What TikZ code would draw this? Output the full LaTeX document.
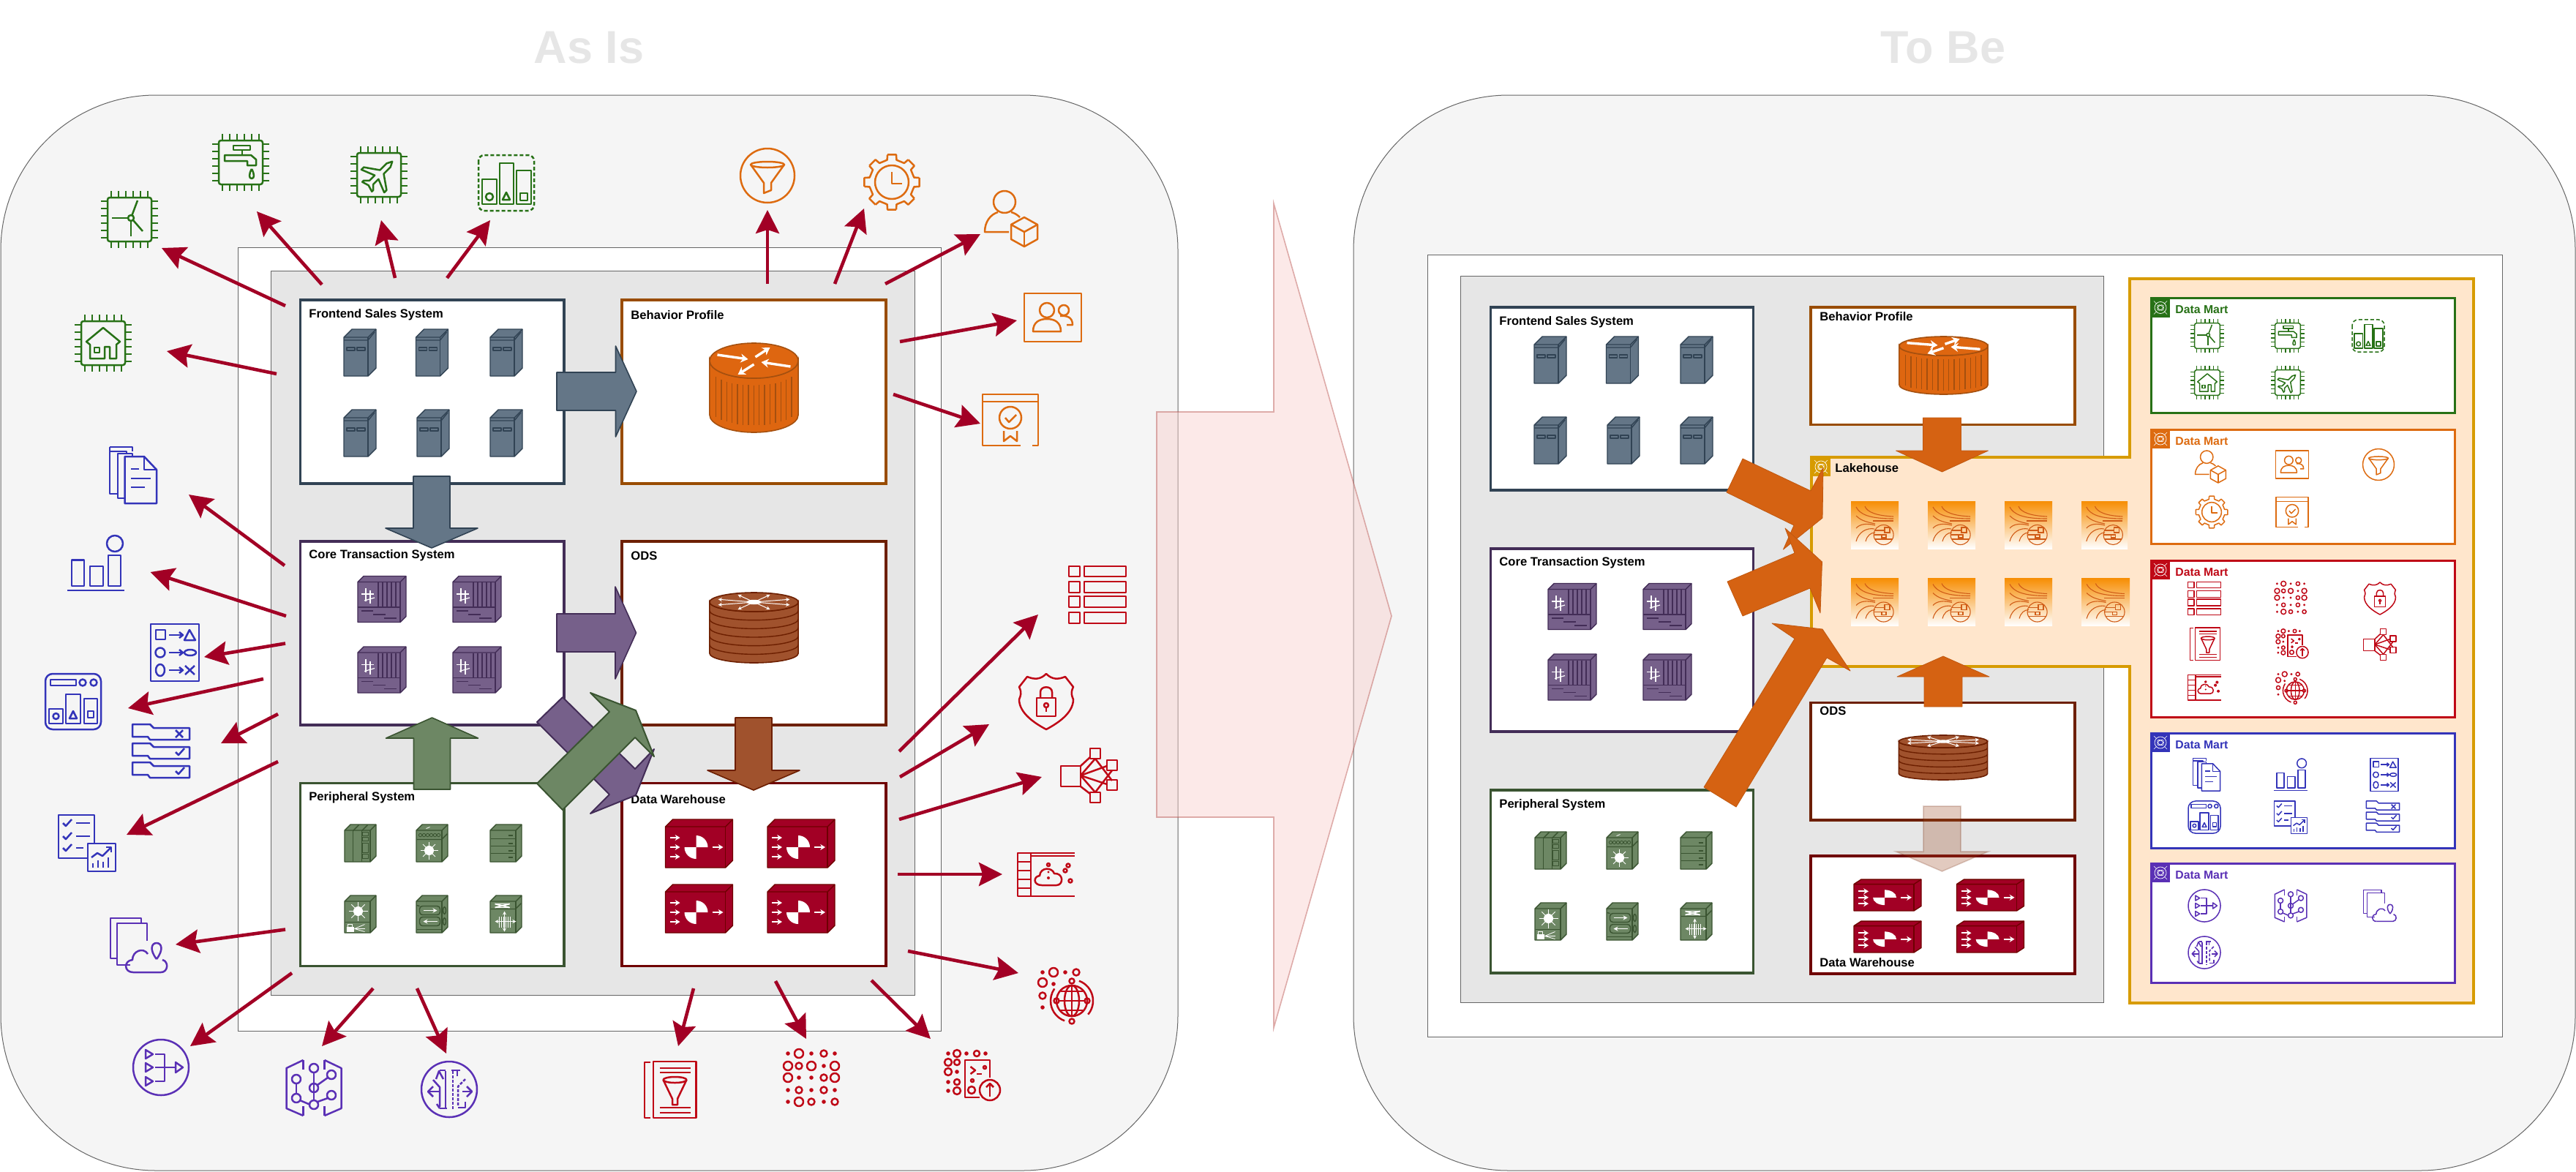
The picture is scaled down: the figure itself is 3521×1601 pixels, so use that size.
\documentclass[tikz,border=0pt]{standalone}
\usepackage{fontspec}
\setmainfont{Liberation Sans}
\usetikzlibrary{arrows.meta,calc}
\definecolor{redA}{HTML}{A20025}
\definecolor{awsG}{HTML}{277116}
\definecolor{awsO}{HTML}{DD6B10}
\definecolor{awsR}{HTML}{BF0816}
\definecolor{awsB}{HTML}{3334B9}
\definecolor{awsP}{HTML}{5A30B5}
\definecolor{slF}{HTML}{647687}\definecolor{slS}{HTML}{314354}
\definecolor{puF}{HTML}{76608A}\definecolor{puS}{HTML}{432D57}
\definecolor{grF}{HTML}{6D8764}\definecolor{grS}{HTML}{3A5431}
\definecolor{brF}{HTML}{A0522D}\definecolor{brS}{HTML}{6D1F00}
\definecolor{dwF}{HTML}{A20025}\definecolor{dwS}{HTML}{6F0000}
\definecolor{bhS}{HTML}{994C00}
\definecolor{orF}{HTML}{DE6610}\definecolor{orS}{HTML}{A5500F}
\definecolor{lkF}{HTML}{FFE6CC}\definecolor{lkS}{HTML}{D79B00}
\definecolor{bigO}{HTML}{D56212}
\definecolor{lkL}{HTML}{D05C17}
\definecolor{lkT}{HTML}{F78E04}
\definecolor{titleC}{HTML}{E6E6E6}
\definecolor{pinkF}{HTML}{F8CECC}\definecolor{pinkS}{HTML}{B85450}
\tikzset{
  panel/.style={draw=black!60,line width=.5pt,fill=black!4,rounded corners=106pt},
  inner rect/.style={draw=black!60,line width=.5pt,fill=white},
  gray rect/.style={draw=black!60,line width=.5pt,fill=titleC},
  sysbox/.style={shape=rectangle,fill=white,line width=1.7pt,inner sep=0pt},
  dmbox/.style={shape=rectangle,fill=white,line width=1.5pt,inner sep=0pt},
  dmhead/.style={shape=rectangle,inner sep=0pt,minimum size=13pt},
  lbl/.style={anchor=west,inner sep=0pt,yshift=-.8pt,font=\bfseries\fontsize{8.3}{10}\selectfont},
  dmlbl/.style={anchor=west,inner sep=0pt,font=\bfseries\fontsize{7.9}{10}\selectfont},
  ttl/.style={inner sep=0pt,text=titleC,font=\bfseries\fontsize{31.5}{36}\selectfont},
  redarrow/.style={draw=redA,line width=2.3pt,-{Stealth[length=16pt,width=16pt,inset=2.5pt]}},
  orblock/.style={fill=bigO,draw=bigO!90!black,line width=.4pt,line join=round},
  devline/.style={line width=.7pt,line join=round},
}
% ---- helpers
\newcommand{\rectnode}[7]{\node[#7,draw=#6,minimum width={(#4-#2)*0.5pt},minimum height={(#5-#3)*0.5pt}] (#1) at ({(#2+#4)/2},{(#3+#5)/2}) {};}
\newcommand{\tarrow}[5]{\coordinate (#1-a) at (#2,#3);\coordinate (#1-b) at (#4,#5);\draw[redarrow] (#1-a) -- (#1-b);}
\newcommand{\vblock}[7]{\draw[#1] (#2-#6,#3)--(#2+#6,#3)--(#2+#6,#4)--(#2+#7,#4)--(#2,#5)--(#2-#7,#4)--(#2-#6,#4)--cycle;}
\newcommand{\hblock}[7]{\draw[#1] (#3,#2-#6)--(#3,#2+#6)--(#4,#2+#6)--(#4,#2+#7)--(#5,#2)--(#4,#2-#7)--(#4,#2-#6)--cycle;}
\newcommand{\icoB}[4]{\begin{scope}[shift={(#3,#4)},color=#2,line width=1.25pt,line join=round]\csname icoX#1\endcsname\end{scope}}
\newcommand{\icoS}[4]{\begin{scope}[shift={(#3,#4)},scale=.58,color=#2,line width=.75pt,line join=round]\csname icoX#1\endcsname\end{scope}}
\newcommand{\chipframe}{\draw[rounded corners=1.5pt] (-30,-30) rectangle (30,30);
 \foreach \pp in {-25,-15,-5,5,15,25}{\draw (\pp,-30)--(\pp,-39);\draw (\pp,30)--(\pp,39);\draw (-30,\pp)--(-39,\pp);\draw (30,\pp)--(39,\pp);}}
% ---- outline icons
\newcommand{\icoXwind}{\chipframe\draw (2,-2) circle (4);\draw (-2,-2)--(-24,-2);\draw (2,2)--(2,23);\draw (3.5,-6)--(11,-26);\draw (5,1)--(18,16);}
\newcommand{\icoXtap}{\chipframe\draw (-10,-23) rectangle (13,-17);\draw (2,-17)--(2,-10);
 \draw (-22,-10)--(14,-10)--(21,-4)--(21,4)--(9,4)--(9,-2)--(-22,-2)--cycle;
 \draw (15,9) .. controls (11,16) and (11,22) .. (15,22) .. controls (19,22) and (19,16) .. (15,9);}
\newcommand{\icoXplane}{\chipframe\begin{scope}[rotate=-45,scale=.92]\draw (0,-28)--(4,-20)--(4,-6)--(24,8)--(24,13)--(4,5)--(4,16)--(10,22)--(10,25)--(0,22)--(-10,25)--(-10,22)--(-4,16)--(-4,5)--(-24,13)--(-24,8)--(-4,-6)--(-4,-20)--cycle;\end{scope}}
\newcommand{\icoXchart}{\draw[dash pattern=on 2.5pt off 1.5pt,rounded corners=4pt] (-38,-38) rectangle (38,38);
 \draw (-33,-5) rectangle (-13,29);\draw (-9,-27) rectangle (10,29);\draw (14,-17) rectangle (34,29);
 \draw (-23,19) circle (5);\draw (0,13)--(5,23)--(-5,23)--cycle;\draw (19,14) rectangle (29,24);}
\newcommand{\icoXhome}{\chipframe\draw (0,-21)--(23,-2)--(18,2)--(18,21)--(9,21)--(9,5)--(2,5)--(2,21)--(-18,21)--(-18,2)--(-23,-2)--cycle;\draw (-12,6) rectangle (-5,13);}
\newcommand{\icoXdocs}{\draw (-11.5,-26)--(15,-26)--(32,-8)--(32,38)--(-11.5,38)--cycle;\draw (15,-26)--(15,-8)--(32,-8);
 \draw (-3,-9)--(8,-9);\draw (-3,4)--(24,4);\draw (-3,16)--(16,16);
 \draw (-1,-26)--(-1,-30)--(-21,-30)--(-21,31)--(-11.5,31);\draw (-9,-30)--(-9,-33)--(-32,-33)--(-32,25)--(-21,25);\draw (-32,-39)--(-1,-39)--(-1,-33);\draw (-32,-39)--(-32,-33);}
\newcommand{\icoXbars}{\draw (26,-27) circle (11);\draw (-33,-4.5) rectangle (-16,31);\draw (-8,4) rectangle (10,31);\draw (17,-11) rectangle (34,31);\draw (-39,37)--(39,37);}
\newcommand{\icoXflows}{\draw (-33,-39) rectangle (33,39);
 \draw (-26,-31) rectangle (-13,-18);\draw (-8,-24)--(10,-24);\draw (6,-28)--(11,-24)--(6,-20);\draw (20,-31)--(28,-17)--(13,-17)--cycle;
 \draw (-20,0) circle (6.5);\draw (-8,0)--(10,0);\draw (6,-4)--(11,0)--(6,4);\draw (21,0) ellipse (8 and 4);
 \draw (-20,24) ellipse (6 and 8);\draw (-8,24)--(10,24);\draw (6,20)--(11,24)--(6,28);\draw (14,18)--(27,30);\draw (14,30)--(27,18);}
\newcommand{\icoXdash}{\draw[rounded corners=5pt] (-38,-38) rectangle (38,38);\draw (-31,-30) rectangle (4,-22);\draw (13,-26) circle (4.5);\draw (28,-26) circle (4.5);
 \draw (-33,10) rectangle (-14,30);\draw (-10,-10) rectangle (10,30);\draw (15,-4) rectangle (33,30);\draw (-23.5,20) circle (4);\draw (0,13)--(5,23)--(-5,23)--cycle;\draw (20,13) rectangle (28,22);}
\newcommand{\icoXcheck}{\draw (10,1)--(10,-38)--(-39,-38)--(-39,21)--(1,21);\draw (1,1) rectangle (39,39);
 \foreach \yy in {-27,-9,7}{\draw (-33,\yy)--(-29,\yy+4)--(-21,\yy-5);}\draw (-15,-27)--(4,-27);\draw (-15,-9)--(4,-9);\draw (-15,7)--(-5,7);
 \foreach \xx/\tt in {8/28,15/24,22/26,29/20}{\draw (\xx,34)--(\xx,\tt);}\draw (6,20)--(14,14)--(21,18)--(33,6);\draw (26,6)--(33,6)--(33,13);}
\newcommand{\icoXfolders}{\foreach \dy in {0,26,52}{\draw (-39,-38+\dy)--(-15,-38+\dy)--(-10,-33+\dy)--(39,-33+\dy)--(39,-17+\dy)--(-15,-17+\dy)--(-18,-21+\dy)--(-39,-21+\dy)--cycle;}
 \draw (20,-30)--(30,-20);\draw (20,-20)--(30,-30);\draw (20,0)--(24,4)--(32,-5);\draw (20,26)--(24,30)--(32,21);}
\newcommand{\icoXpin}{\draw (3,-30)--(3,-37)--(-39,-37)--(-39,18)--(-30,18);\draw (11,-6)--(11,-30)--(-30,-30)--(-30,27)--(-12,27);
 \draw (-8,37) .. controls (-21,37) and (-21,21) .. (-9,20) .. controls (-9,8) and (6,2) .. (12,12);\draw (-8,37)--(30,37) .. controls (40,37) and (41,22) .. (32,20);
 \draw (24,19) .. controls (14,6) and (17,-3) .. (24,-3) .. controls (31,-3) and (34,6) .. (24,19);}
\newcommand{\icoXmerge}{\draw (0,0) circle (38);\foreach \yy in {-18,0,19}{\draw (-21,\yy-6)--(-11,\yy)--(-21,\yy+6)--cycle;}
 \draw (-8,-18)--(5,-18)--(5,19)--(-8,19);\draw (-8,0)--(20,0);\draw (20,-7)--(30,0)--(20,7)--cycle;}
\newcommand{\icoXbrain}{\draw (-14.5,-38)--(-37.5,-27)--(-37.5,28)--(-14.5,38);\draw (-14.5,-38)--(-14.5,-25);\draw (-14.5,38)--(-14.5,25);
 \draw (14.5,-38)--(37.5,-27)--(37.5,28)--(14.5,38);\draw (14.5,-38)--(14.5,-25);\draw (14.5,38)--(14.5,25);
 \draw (0,-21)--(0,17);\draw (-24,-6)--(-24,8);\draw (-19,17)--(-5,23);\draw (5,-4)--(19,-14);\draw (5,19)--(19,14);
 \foreach \xx/\yy in {0/-27,0/0,0/23,-24/-12,-24/14,24/-18,24/10}{\draw (\xx,\yy) circle (6);}}
\newcommand{\icoXroutes}{\draw (0,0) circle (38);\draw (-5,-25)--(-5,27);\draw (-13,-26)--(-5,-26);\draw (-22,-13)--(-13,-3)--(-13,24);\draw (-13,26)--(-3,26);\draw (-17,20)--(-13,26);
 \draw (-18,-14)--(-14,-25)--(-8,-14);\draw (-28,3)--(-12,3);\draw (-22,-4)--(-29,3)--(-22,10);
 \draw[dash pattern=on 2pt off 1pt] (5,-25)--(5,27);\draw (3,-26)--(15,-26);\draw (11,-26)--(11,-18);\draw[dash pattern=on 2pt off 1pt] (22,-14)--(12,-4)--(12,22);\draw (18,3)--(30,3);\draw (24,-4)--(31,3)--(24,10);\draw (12,25)--(22,25)--(22,17);}
\newcommand{\icoXfunbook}{\draw (-23,-39) rectangle (35.5,38);\draw (-27,-38)--(-35,-38)--(-35,38)--(-27,38);
 \draw (-14,-30)--(28,-30);\draw (-14,-24)--(28,-24);\draw (-14,24)--(28,24);\draw (-14,31)--(28,31);
 \draw (6.5,-14) ellipse (16 and 4);\draw (-9.5,-14)--(3,12)--(3,20)--(10,20)--(10,12)--(22.5,-14);}
\newcommand{\dotgrid}[2]{\foreach \xx/\yy in {#1}{\fill (\xx,\yy) circle (2.8);}\foreach \xx/\yy/\rr in {#2}{\draw (\xx,\yy) circle (\rr);}}
\newcommand{\icoXdots}{\dotgrid{-32/-33,0/-33,32/-33,17/-16,-17/0,0/0,-32/17,0/17,32/17,-32/33,17/33}{-17/-33/6,17/-33/4.5,-32/-16/6,-17/-16/4.5,0/-16/6,32/-16/6,-32/0/6,17/0/4.5,32/0/6,-17/17/4.5,17/17/4.5,-17/33/6,0/33/4.5,32/33/4.5}}
\newcommand{\icoXterm}{\dotgrid{-33/-30,-8/-30,18/-30,-21/-5,-33/9,-33/21}{-21/-30/5,6/-30/4,-33/-18/5,-21/-18/4,-33/-5/5,-21/9/4,-21/21/5}
 \draw (24,3)--(24,-21)--(-10,-21)--(-10,30)--(10,30);\draw (-2.5,-12)--(4,-7)--(-2.5,-2);\draw (6,-2)--(13,-2);\draw (17,-11) circle (2);\draw (0,7) circle (2);\draw (-1,20) circle (5);
 \draw (24,20) circle (14);\draw (24,29)--(24,12);\draw (19,16)--(24,11)--(29,16);}
\newcommand{\icoXglobe}{\dotgrid{-31/-32,0/-32,-16/-16,-31/16}{-16/-32/6,15/-32/4.5,-31/-18/6,-31/0/4.5,9/-20/3.5,9/35/3.5,-12/7/3.5,30/7/3.5}
 \draw (9,7) circle (21);\draw (9,7) ellipse (10 and 21);\draw (-9,7)--(27,7);\draw (9,-14)--(9,28);\draw (-6,-6)--(24,-6);\draw (-6,20)--(24,20);
 \draw ([shift={(9,7)}]-70:29) arc (-70:40:29);\draw ([shift={(9,7)}]110:29) arc (110:215:29);}
\newcommand{\icoXtable}{\foreach \ya/\yb in {-39/-25,-18/-3,2/17,24/39}{\draw (-39,\ya) rectangle (-24,\yb);\draw (-18,\ya) rectangle (39,\yb);}}
\newcommand{\icoXshield}{\draw (0,-38) .. controls (-8,-30) and (-16,-30) .. (-26,-34) -- (-37,-20) .. controls (-33,-12) and (-35,-8) .. (-37,-3) .. controls (-37,16) and (-15,30) .. (0,38) .. controls (15,30) and (37,16) .. (37,-3) .. controls (35,-8) and (33,-12) .. (37,-20) -- (26,-34) .. controls (16,-30) and (8,-30) .. (0,-38) -- cycle;
 \draw (-13,-5) rectangle (13,20);\draw (-8,-5)--(-8,-13) .. controls (-8,-22) and (8,-22) .. (8,-13)--(8,-5);\draw (0,5) circle (3);\draw (0,8)--(0,14);}
\newcommand{\icoXnet}{\draw (-39,-13) rectangle (-12,15);\foreach \xx/\yy in {8/-30,31/-14,31/13,8/30}{\draw (\xx-7,\yy-7) rectangle (\xx+7,\yy+7);}
 \draw (-12,-13)--(1,-25);\draw (-12,0)--(8,-23);\draw (-12,0)--(24,-13);\draw (-12,0)--(24,12);\draw (-12,0)--(8,23);\draw (-12,15)--(1,25);\draw (8,-23)--(31,7);\draw (8,23)--(31,-7);}
\newcommand{\icoXctable}{\draw (-39,-29) rectangle (-21,30);\foreach \yy in {-17,-5,7,19}{\draw (-39,\yy)--(-21,\yy);}\draw (-21,-29)--(39,-29);\draw (-21,-25)--(39,-25);\draw (-21,30)--(39,30);
 \draw (-6,15) .. controls (-18,15) and (-18,3) .. (-9,2) .. controls (-8,-10) and (8,-10) .. (11,-1) .. controls (24,-2) and (24,15) .. (14,15) -- cycle;
 \fill (3,-3) circle (1.6);\fill (3,5) circle (2);\draw (30,-12) circle (2.5);\draw (26,-5) circle (2.5);\draw (33,9) circle (2.5);\draw (3,-13) circle (2);}
\newcommand{\icoXfunnel}{\draw (0,0) circle (37);\draw (0,-15) ellipse (23 and 4);\draw (-23,-15)--(-5,10)--(-5,24)--(5,20)--(5,10)--(23,-15);}
\newcommand{\icoXgear}{\foreach \aa in {0,45,...,315}{\draw (\aa-9:38)--(\aa+9:38)--(\aa+12:31)--(\aa+33:31)--(\aa+36:38);}\draw (0,0) circle (23);\draw (0,-14)--(0,2)--(14,2);}
\newcommand{\icoXuser}{\draw (-10,-23) circle (15);\draw (-4,18)--(-37,18) .. controls (-37,4) and (-29,-6) .. (-19,-9);\draw (-1,-9) .. controls (3,-8) and (7,-6) .. (11,-2);
 \draw (17,-2)--(35,8)--(35,28)--(17,38)--(-1,28)--(-1,8)--cycle;\draw (-1,8)--(17,18)--(35,8);\draw (17,18)--(17,38);}
\newcommand{\icoXpeople}{\draw (-39,-33) rectangle (39,33);\draw (-8,-10) circle (10);\draw (-27,19) .. controls (-27,6) and (-18,2) .. (-8,2) .. controls (2,2) and (11,6) .. (11,19)--cycle;\draw (15,-10) circle (7);\draw (10,-2) .. controls (20,-3) and (27,0) .. (27,10)--(19,10);}
\newcommand{\icoXcert}{\draw (14,35)--(-38,35)--(-38,-35)--(38,-35)--(38,35)--(30,35);\draw (-38,-25)--(38,-25);\draw (0,-3) circle (15);\draw (-7,-3)--(-2,3)--(8,-7);\draw (-9,15)--(-9,29)--(0,22)--(9,29)--(9,15);}
% ---- 3D devices: centred on the origin
\newcommand{\devcube}[5]{% width height depth fill stroke
 \filldraw[devline,fill=#4,draw=#5] ({-#1/2},{-#2/2+#3})--({-#1/2+#3},{-#2/2})--({#1/2},{-#2/2})--({#1/2},{#2/2-#3})--({#1/2-#3},{#2/2})--({-#1/2},{#2/2})--cycle;
 \draw[devline,draw=#5] ({-#1/2},{-#2/2+#3})--({#1/2-#3},{-#2/2+#3})--({#1/2},{-#2/2});\draw[devline,draw=#5] ({#1/2-#3},{-#2/2+#3})--({#1/2-#3},{#2/2});}
\newcommand{\server}[2]{\begin{scope}[shift={(#1,#2)}]\devcube{44}{64}{11}{slF}{slS}
 \draw[devline,draw=slS] (-22,-17)--(11,-17)--(20,-28);\draw[devline,draw=slS,fill=slF] (-18,-7) rectangle (-7,-3);\draw[devline,draw=slS] (-4,-7) rectangle (7,-3);\end{scope}}
\newcommand{\coreswitch}[2]{\begin{scope}[shift={(#1,#2)}]\devcube{66}{63}{8}{puF}{puS}
 \foreach \xx in {-5,1,7,13,19}{\draw[devline,draw=puS] (\xx,-23)--(\xx,11);}\draw[devline,draw=puS] (-33,11)--(25,11);
 \draw[devline,draw=puS] (-28,16)--(-12,16);\draw[devline,draw=puS] (-12,21)--(5,21);\draw[devline,draw=puS] (3,26)--(20,26);
 \draw[white,line width=.6pt] (-28,-7)--(-11,-7);\draw[white,line width=.6pt] (-24,2)--(-10,-2);\draw[white,line width=.6pt] (-22,-15)--(-22,3);\draw[white,line width=.6pt] (-16,-12)--(-16,6);\end{scope}}
\newcommand{\perA}{\devcube{43}{51}{8}{grF}{grS}\draw[devline,draw=grS] (-10,-17)--(-10,25);\draw[devline,draw=grS] (2,-17)--(2,25);\draw[devline,draw=grS] (-10,-17)--(-2,-25);\draw[devline,draw=grS] (2,-17)--(10,-25);
 \foreach \ya/\yb in {-15/-10,-8/-3,0/13,15/21}{\draw[devline,draw=grS] (3,\ya) rectangle (11,\yb);}}
\newcommand{\perB}{\devcube{43}{51}{8}{grF}{grS}\draw[devline,draw=grS] (-21,-5)--(13,-5)--(21,-13);\foreach \xx in {-16,-11,...,9}{\draw[line width=.4pt,draw=grS] (\xx,-11) circle (2.2);}
 \fill[white] (-4,10) circle (6.5);\foreach \aa in {0,45,...,315}{\draw[white,line width=.4pt] (-4,10)--++(\aa:12);}\draw[white,line width=.4pt] (-8,-20)--(-3,-22);}
\newcommand{\perC}{\devcube{43}{51}{8}{grF}{grS}\foreach \yy in {-6,4,14}{\draw[devline,draw=grS] (-21,\yy)--(13,\yy);}\foreach \yy in {-11,0,10,19}{\draw[line width=1pt,draw=grS] (3,\yy)--(9,\yy);}}
\newcommand{\perD}{\devcube{43}{51}{8}{grF}{grS}\draw[devline,draw=grS] (-21,11)--(13,11);\fill[white] (-3,-4) circle (6.5);\foreach \aa in {0,45,...,315}{\draw[white,line width=.4pt] (-3,-4)--++(\aa:13);}
 \fill[white] (-19,17) rectangle (-9,24);\draw[white,line width=.5pt] (-17,17)--(-17,14)--(-11,14)--(-11,17);\draw[white,line width=.4pt] (-8,20)--(6,14);\draw[white,line width=.4pt] (-8,20)--(6,24);\draw[white,line width=.4pt] (-8,20)--(6,20);}
\newcommand{\perE}{\devcube{43}{51}{8}{grF}{grS}\draw[devline,draw=grS,rounded corners=2pt] (-17,-11) rectangle (11,1);\draw[devline,draw=grS,rounded corners=2pt] (-17,4) rectangle (11,16);\draw[white,line width=.5pt,-{Stealth[length=3pt,width=3pt]}] (-12,-5)--(7,-5);\draw[white,line width=.5pt,-{Stealth[length=3pt,width=3pt]}] (7,10)--(-12,10);\draw[devline,draw=grS] (17,-5) ellipse (2 and 5);\draw[devline,draw=grS] (17,10) ellipse (2 and 5);\draw[devline,draw=grS] (-21,-12)--(-17,-11);\draw[devline,draw=grS] (-21,21)--(13,21);}
\newcommand{\perF}{\devcube{43}{51}{8}{grF}{grS}\draw[devline,draw=grS] (-21,-7)--(13,-7)--(21,-15);\draw[white,line width=.9pt] (-15,-14)--(5,-9);\draw[white,line width=.9pt] (-15,-9)--(5,-14);\draw[white,line width=.9pt] (-15,-14)--(5,-14);\draw[white,line width=.9pt] (-15,-9)--(5,-9);
 \draw[white,line width=.4pt] (-9,3) grid[step=3] (6,18);\draw[white,line width=.4pt,{Stealth[length=2.5pt,width=2.5pt]}-{Stealth[length=2.5pt,width=2.5pt]}] (-15,10)--(14,10);\draw[white,line width=.4pt,{Stealth[length=2.5pt,width=2.5pt]}-{Stealth[length=2.5pt,width=2.5pt]}] (-2,-4)--(-2,24);}
\newcommand{\dwicon}[3]{\begin{scope}[shift={(#1,#2)},yscale=#3]\devcube{92}{66}{10}{dwF}{dwS}
 \foreach \yy in {-8,5,18}{\draw[white,line width=.9pt,-{Stealth[length=3.4pt,width=4pt]}] (-40,\yy)--(-26,\yy);}
 \draw[white,line width=.9pt,-{Stealth[length=3.4pt,width=4pt]}] (18,5)--(33,5);
 \fill[white] (-4,5)--(12,5) arc (0:-90:16)--cycle;\fill[white] (-4,5)--(-20,5) arc (180:90:16)--cycle;\end{scope}}
% barrel router (behaviour profile)
\newcommand{\barrel}[4]{\begin{scope}[shift={(#1,#2)}]
 \filldraw[fill=orF,draw=orS,line width=.8pt] (-60.6,0)--(-60.6,#4) arc (180:0:60.6 and #3)--(60.6,0) arc (0:180:60.6 and #3)--cycle;
 \foreach \xx in {-52,-44.6,...,53}{\pgfmathsetmacro\yy{#3*sqrt(1-(\xx/60.6)^2)}\draw[draw=orS,line width=.7pt] (\xx,{\yy+.4*#3})--(\xx,{\yy+#4-.4*#3});}
 \draw[draw=orS,fill=orF,line width=.8pt] (0,0) ellipse (60.6 and #3);
 \begin{scope}[yscale=#3/24]
 \draw[white,line width=1.7pt,-{Stealth[length=5pt,width=6pt]}] (-50,-8)--(-8,-2);\draw[white,line width=1.7pt,-{Stealth[length=5pt,width=6pt]}] (50,8)--(10,2);
 \draw[white,line width=1.7pt,-{Stealth[length=5pt,width=6pt]}] (2,-5)--(22,-18);\draw[white,line width=1.7pt,-{Stealth[length=5pt,width=6pt]}] (0,5)--(-22,19);
 \end{scope}\end{scope}}
% disc stack router (ODS)
\newcommand{\stackrouter}[5]{\begin{scope}[shift={(#1,#2)}]
 \filldraw[fill=brF,draw=brS,line width=.8pt] (-60.6,0)--(-60.6,#4) arc (180:0:60.6 and #3)--(60.6,0) arc (0:180:60.6 and #3)--cycle;
 \foreach \ii in {1,...,#5}{\draw[draw=brS,line width=.7pt] (-60.6,{#4*\ii/(#5+1)}) arc (180:0:60.6 and #3);}
 \draw[draw=brS,fill=brF,line width=.8pt] (0,0) ellipse (60.6 and #3);
 \foreach \aa in {20,65,115,160,200,245,295,340}{\draw[white,line width=.5pt,-{Stealth[length=2.6pt,width=2.6pt]}] (0,0)--({52*cos(\aa)},{.85*#3*sin(\aa)});}
 \fill[white] (0,0) ellipse (10 and {#3*.25});\end{scope}}
% lakehouse icon: x,y = top-left, 65 px square
\newcommand{\lakeicon}[3]{\begin{scope}[shift={(#1,#2)},xscale=#3/65]
 \shade[top color=lkT,bottom color=white] (0,0) rectangle (65,65);
 \begin{scope}[draw=lkL,line width=.55pt]
 \draw (7,8) .. controls (12,18) and (25,24) .. (58,24);\draw (19,7) .. controls (22,15) and (35,20) .. (58,21);\draw (30,27)--(58,27);
 \draw (7,20) .. controls (15,28) and (25,29) .. (33,31);\draw (7,37) .. controls (12,31) and (22,30) .. (33,33);
 \draw (7,55) .. controls (10,42) and (22,36) .. (32,38);\draw (20,55) .. controls (22,47) and (27,43) .. (33,43);
 \draw (44.6,46) circle (13.5);\draw (32,40)--(46,40);\draw (31.5,46)--(46,46);\draw (33,52)--(57,52);\draw (46,36) rectangle (53,43);\draw (42,46) rectangle (48,50);
 \end{scope}\end{scope}}
% small header mark
\newcommand{\hdmark}[3]{\begin{scope}[shift={(#1,#2)}]\draw[white,line width=.35pt] (0,0) circle (8);\draw[white,line width=.35pt,rotate=35] (0,0) ellipse (5 and 3);\draw[white,line width=.35pt,rotate=-35] (0,0) ellipse (5 and 3);\draw[white,line width=.3pt] (-9,-9)--(-5,-5);\draw[white,line width=.3pt] (9,-9)--(5,-5);\draw[white,line width=.3pt] (-9,9)--(-5,5);\draw[white,line width=.3pt] (9,9)--(5,5);\end{scope}}
\newcommand{\datamart}[4]{\rectnode{#1}{2940}{#2}{3355}{#3}{#4}{dmbox}
 \node[dmhead,fill=#4] (#1-h) at (2953,{#2+13}) {};\hdmark{2953}{#2+13}{#4}
 \node[dmlbl,text=#4] (#1-l) at (2973,{#2+16}) {Data Mart};}
% groups drawn for either panel
\newcommand{\frontendset}{\server{492}{482}\server{590.5}{482}\server{692}{482}\server{492}{592}\server{592}{592}\server{692}{592}}
\newcommand{\coreset}{\coreswitch{522}{819}\coreswitch{652}{819}\coreswitch{522}{915.5}\coreswitch{652}{915.5}}
\newcommand{\peripheralset}{
 \begin{scope}[shift={(492.5,1152.5)}]\perA\end{scope}\begin{scope}[shift={(590.5,1152.5)}]\perB\end{scope}\begin{scope}[shift={(691.5,1152.5)}]\perC\end{scope}
 \begin{scope}[shift={(492.5,1249.5)}]\perD\end{scope}\begin{scope}[shift={(590.5,1249.5)}]\perE\end{scope}\begin{scope}[shift={(691.5,1249.5)}]\perF\end{scope}}
\begin{document}
\begin{tikzpicture}[x=0.5pt,y=-0.5pt]
\useasboundingbox (0,0) rectangle (3521,1601);
% ---------- titles and panels
\node[ttl] (tAsIs) at (805,65) {As Is};
\node[ttl] (tToBe) at (2656,65) {To Be};
\draw[panel] (1,130) rectangle (1610,1600);
\draw[panel] (1850,130) rectangle (3520,1600);
\draw[inner rect] (325.5,338) rectangle (1286,1409);
\draw[gray rect] (370,370) rectangle (1250.5,1360);
% ---------- big pink transition arrow
\draw[fill=pinkF,fill opacity=.45,draw=pinkS,draw opacity=.45,line width=.8pt] (1581,563)--(1741,563)--(1741,278)--(1902,842)--(1741,1405)--(1741,1117)--(1581,1117)--cycle;
% ---------- As Is boxes
\rectnode{fe}{410.5}{410}{771}{661}{slS}{sysbox}
\rectnode{bp}{850}{410}{1211}{661}{bhS}{sysbox}
\rectnode{ct}{410.5}{740}{771}{991}{puS}{sysbox}
\rectnode{od}{850}{740}{1211}{991}{brS}{sysbox}
\rectnode{pe}{410.5}{1070.5}{771}{1320.5}{grS}{sysbox}
\rectnode{dw}{850}{1070.5}{1211}{1320.5}{dwS}{sysbox}
\node[lbl] (feL) at (422,429) {Frontend Sales System};
\node[lbl] (bpL) at (862,429) {Behavior Profile};
\node[lbl] (ctL) at (422,758) {Core Transaction System};
\node[lbl] (odL) at (862,758) {ODS};
\node[lbl] (peL) at (422,1089) {Peripheral System};
\node[lbl] (dwL) at (862,1090.5) {Data Warehouse};
\frontendset \coreset \peripheralset
\dwicon{955.5}{1153}{1}\dwicon{1095}{1153}{1}\dwicon{955.5}{1242}{1}\dwicon{1095}{1242}{1}
\barrel{1030.5}{493}{24}{74}
\stackrouter{1030.5}{823}{13}{70}{5}
% ---------- As Is block arrows
\hblock{fill=slF,draw=slS,line width=.8pt,line join=round}{535}{761}{841.5}{870}{26}{62}
\vblock{fill=slF,draw=slS,line width=.8pt,line join=round}{590}{651}{722}{749}{25}{63}
\hblock{fill=puF,draw=puS,line width=.8pt,line join=round}{865}{761}{841}{869.5}{26}{63}
\vblock{fill=grF,draw=grS,line width=.8pt,line join=round}{590.5}{1079}{1009}{981}{25}{63}
\vblock{fill=brF,draw=brS,line width=.8pt,line join=round}{1030}{981}{1053}{1080}{25}{63}
\draw[fill=puF,draw=puS,line width=1pt,line join=round] (769,953)--(734,987)--(833,1086)--(807,1112)--(869,1087)--(894,1024)--(868,1051)--cycle;
\draw[fill=grF,draw=grS,line width=1pt,line join=round] (734,1071)--(833,973)--(807,947)--(869,971)--(894,1034)--(868,1008)--(769,1107)--cycle;
% ---------- As Is thin arrows
\tarrow{a1}{390}{418}{221}{339}
\tarrow{a2}{440}{389}{351}{289}
\tarrow{a3}{540}{380}{521}{301}
\tarrow{a4}{611}{380}{670}{301}
\tarrow{a5}{378}{511}{228}{480}
\tarrow{a6}{389}{773}{258}{676}
\tarrow{a7}{391}{842}{205.5}{782}
\tarrow{a8}{390}{879.5}{279}{898}
\tarrow{a9}{360}{928}{175}{968}
\tarrow{a10}{380}{976}{302}{1016}
\tarrow{a11}{380}{1041}{173}{1141}
\tarrow{a12}{390}{1270.5}{240}{1291}
\tarrow{a13}{399}{1330}{260}{1430}
\tarrow{a14}{510}{1351}{440}{1430}
\tarrow{a15}{570}{1351}{610}{1440}
\tarrow{a16}{948}{1351}{927}{1430}
\tarrow{a17}{1060}{1341}{1102}{1420}
\tarrow{a18}{1191}{1340}{1272}{1420}
\tarrow{a19}{1229}{1027}{1419}{840}
\tarrow{a20}{1230}{1062}{1352}{990}
\tarrow{a21}{1229}{1120}{1424}{1062}
\tarrow{a22}{1227}{1195}{1370}{1195}
\tarrow{a23}{1241}{1300}{1392}{1330}
\tarrow{a24}{1049}{388}{1049}{287}
\tarrow{a25}{1141}{388}{1181}{285}
\tarrow{a26}{1210}{388}{1340}{320}
\tarrow{a27}{1230}{467}{1390}{438}
\tarrow{a28}{1221}{539}{1340}{579}
% ---------- As Is icons
\icoB{wind}{awsG}{177}{300}\icoB{tap}{awsG}{329}{222}\icoB{plane}{awsG}{518}{239}\icoB{chart}{awsG}{692}{250}\icoB{home}{awsG}{141}{469}
\icoB{docs}{awsB}{182}{650}\icoB{bars}{awsB}{131}{770}\icoB{flows}{awsB}{239}{892}\icoB{dash}{awsB}{100}{959}\icoB{folders}{awsB}{220}{1028}\icoB{check}{awsB}{119}{1152}
\icoB{pin}{awsP}{190}{1292}\icoB{merge}{awsP}{220}{1459}\icoB{brain}{awsP}{429}{1487}\icoB{routes}{awsP}{614}{1489}
\icoB{funbook}{awsR}{916}{1490}\icoB{dots}{awsR}{1109}{1473}\icoB{term}{awsR}{1329}{1470}\icoB{globe}{awsR}{1456}{1361}\icoB{table}{awsR}{1500}{813}\icoB{shield}{awsR}{1430}{959}\icoB{net}{awsR}{1489}{1060}\icoB{ctable}{awsR}{1430}{1195}
\icoB{funnel}{awsO}{1049}{240}\icoB{gear}{awsO}{1219}{249}\icoB{user}{awsO}{1383}{299}\icoB{people}{awsO}{1439}{434}\icoB{cert}{awsO}{1381}{574}
% ---------- To Be frame
\draw[inner rect] (1951,348) rectangle (3420,1417);
\draw[gray rect] (1996,377) rectangle (2875.5,1370);
\rectnode{feB}{2037.5}{420}{2396.5}{670}{slS}{sysbox}
\rectnode{ctB}{2037.5}{750}{2396.5}{1000}{puS}{sysbox}
\rectnode{peB}{2037.5}{1080}{2396.5}{1330}{grS}{sysbox}
\rectnode{bpB}{2475}{420}{2836}{580.5}{bhS}{sysbox}
\rectnode{odB}{2475}{960.5}{2836}{1121}{brS}{sysbox}
\rectnode{dwB}{2475}{1170}{2836}{1331}{dwS}{sysbox}
\node[lbl] (feBL) at (2049,439) {Frontend Sales System};
\node[lbl] (ctBL) at (2049,768) {Core Transaction System};
\node[lbl] (peBL) at (2049,1099) {Peripheral System};
\node[lbl] (bpBL) at (2487,431) {Behavior Profile};
\node[lbl] (odBL) at (2487,970) {ODS};
\node[lbl] (dwBL) at (2487,1314) {Data Warehouse};
\begin{scope}[shift={(1627,10)}]\frontendset \coreset \peripheralset\end{scope}
\barrel{2656.5}{473}{13}{53}
\stackrouter{2656}{1013.5}{8.5}{44}{4}
\dwicon{2580}{1223.5}{.65}\dwicon{2720.5}{1223.5}{.65}\dwicon{2580}{1280.5}{.65}\dwicon{2720.5}{1280.5}{.65}
% ---------- Lakehouse + Data Mart container
\draw[fill=lkF,draw=lkS,line width=1.7pt] (2911,381)--(3381,381)--(3381,1371)--(2911,1371)--(2911,911)--(2476,911)--(2476,625)--(2911,625)--cycle;
\node[dmhead,fill=lkS] (lkH) at (2489,638) {};\hdmark{2489}{638}{lkS}
\node[lbl] (lkL) at (2508,638) {Lakehouse};
\foreach \xx/\ww in {2530/65,2635/65,2740/65,2845/63}{\lakeicon{\xx}{685}{\ww}}
\foreach \xx/\ww in {2530/65,2635/65,2740/65,2845/66}{\lakeicon{\xx}{790.5}{\ww}}
\datamart{dmG}{407.5}{564.5}{awsG}
\datamart{dmO}{587}{743.5}{awsO}
\datamart{dmR}{766}{980}{awsR}
\datamart{dmB}{1002}{1159}{awsB}
\datamart{dmP}{1180}{1343}{awsP}
\icoS{wind}{awsG}{3017}{459}\icoS{tap}{awsG}{3127}{459}\icoS{chart}{awsG}{3237}{459}\icoS{home}{awsG}{3017}{523}\icoS{plane}{awsG}{3127}{523}
\icoS{user}{awsO}{3022}{638}\icoS{people}{awsO}{3133}{635}\icoS{funnel}{awsO}{3251}{635}\icoS{gear}{awsO}{3023}{700}\icoS{cert}{awsO}{3133}{700}
\icoS{table}{awsR}{3013}{818}\icoS{dots}{awsR}{3131}{817}\icoS{shield}{awsR}{3253}{818}\icoS{funbook}{awsR}{3014}{880.5}\icoS{term}{awsR}{3133}{880}\icoS{net}{awsR}{3253}{881}\icoS{ctable}{awsR}{3013}{939.5}\icoS{globe}{awsR}{3132}{940}
\icoS{docs}{awsB}{3016}{1059}\icoS{bars}{awsB}{3131}{1059}\icoS{flows}{awsB}{3259}{1059}\icoS{dash}{awsB}{3013}{1117}\icoS{check}{awsB}{3131}{1117}\icoS{folders}{awsB}{3257}{1117}
\icoS{merge}{awsP}{3013}{1238}\icoS{brain}{awsP}{3131}{1238}\icoS{pin}{awsP}{3253}{1238}\icoS{routes}{awsP}{3013}{1302}
% ---------- To Be block arrows
\vblock{orblock}{2654.5}{571}{616}{645}{26}{63}
\vblock{orblock}{2656}{966}{925}{897}{26}{63}
\vblock{fill=brF,fill opacity=.3,draw=brS,draw opacity=.2,line width=.8pt}{2654.5}{1102}{1164}{1191}{25.5}{63}
\draw[orblock] (2360,673)--(2382,627)--(2475,671)--(2492,639)--(2491,708)--(2437.5,751)--(2452,718)--cycle;
\draw[orblock] (2361,795)--(2382,842)--(2474,804)--(2488,838)--(2490.5,768)--(2440,722)--(2453,756)--cycle;
\draw[orblock] (2329,1076)--(2373,1103)--(2497,899)--(2529,917)--(2491,860)--(2422,852)--(2453,873)--cycle;
\end{tikzpicture}
\end{document}
